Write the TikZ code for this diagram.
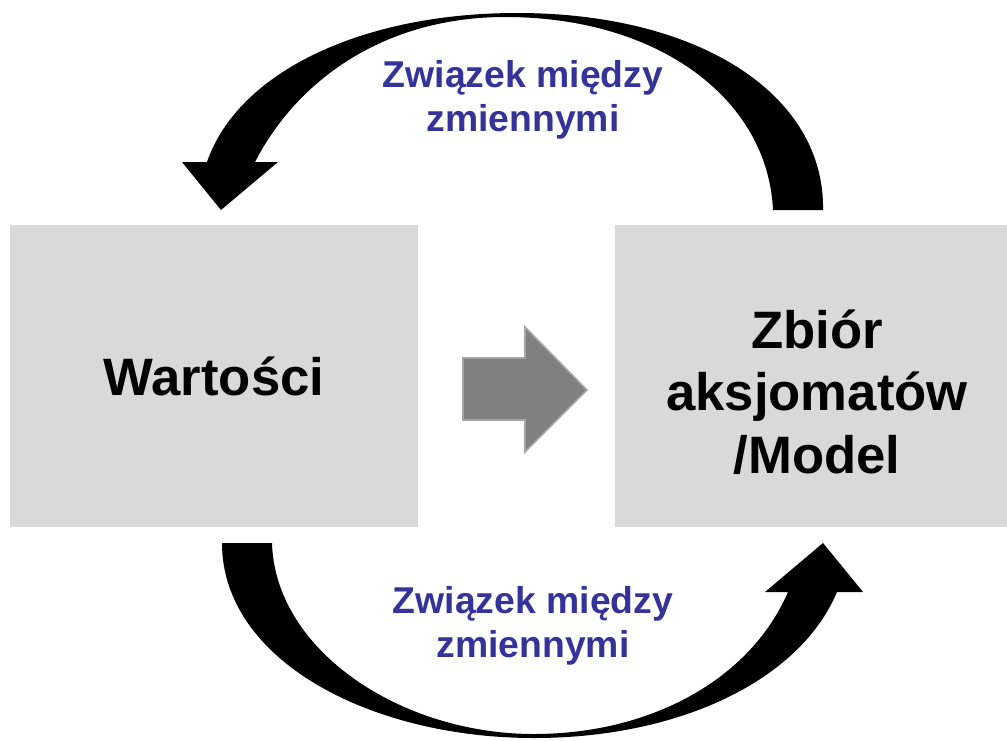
\documentclass[tikz,border=0pt]{standalone}
\usepackage{fontspec}
\setmainfont{Liberation Sans}
\usepackage{xcolor}
\usetikzlibrary{positioning}

\definecolor{boxgray}{HTML}{D9D9D9}
\definecolor{flowgray}{HTML}{808080}
\definecolor{flowedge}{HTML}{A6A6A6}
\definecolor{labelblue}{HTML}{333399}

\begin{document}
\begin{tikzpicture}[
    x=0.75pt, y=-0.75pt,
    box/.style={rectangle, fill=boxgray, inner sep=0pt, minimum height=226.5pt, font=\fontsize{39.5}{40}\selectfont\bfseries},
    boxtext/.style={align=center, inner sep=0pt, font=\fontsize{39.5}{47}\selectfont\bfseries},
    relation/.style={align=center, text=labelblue, inner sep=0pt, font=\fontsize{28}{33}\selectfont\bfseries},
    curvedarrow/.style={fill=black},
    flow/.style={fill=flowgray, draw=flowedge, line width=1.2pt, line join=miter}
]
    \useasboundingbox (0,0) rectangle (1007,740);

    % Boxes
    \node (values) [box, minimum width=306pt] at (214,376) {Wartości};
    \node (model) [box, minimum width=294pt] at (811,376) {};
    \node (modeltext) [boxtext] at (817,392) {Zbiór\\aksjomatów\\/Model};

    % Straight arrow between the boxes
    \draw [flow] (463,358) -- (525,358) -- (525,327) -- (587,390)
        -- (525,452) -- (525,420) -- (463,420) -- cycle;

    % Upper curved arrow (model -> values)
    \fill [curvedarrow] (823,210) .. controls (825,95) and (700,13) .. (517,13)
        .. controls (362,13) and (238,72) .. (207,162)
        -- (182,162) -- (221,210) -- (278,162) -- (255,162)
        .. controls (300,75) and (390,17) .. (505,17)
        .. controls (660,17) and (768,100) .. (773,210) -- cycle;

    % Lower curved arrow (values -> model)
    \fill [curvedarrow] (222,543) .. controls (222,660) and (370,738) .. (534,738)
        .. controls (680,738) and (800,680) .. (837,592)
        -- (863,592) -- (823,543) -- (765,592) -- (788,592)
        .. controls (750,680) and (650,734) .. (534,734)
        .. controls (400,734) and (275,650) .. (272,543) -- cycle;

    % Labels
    \node (uplabel) [relation] at (523,100) {Związek między\\zmiennymi};
    \node (downlabel) [relation] at (533,626) {Związek między\\zmiennymi};
\end{tikzpicture}
\end{document}
